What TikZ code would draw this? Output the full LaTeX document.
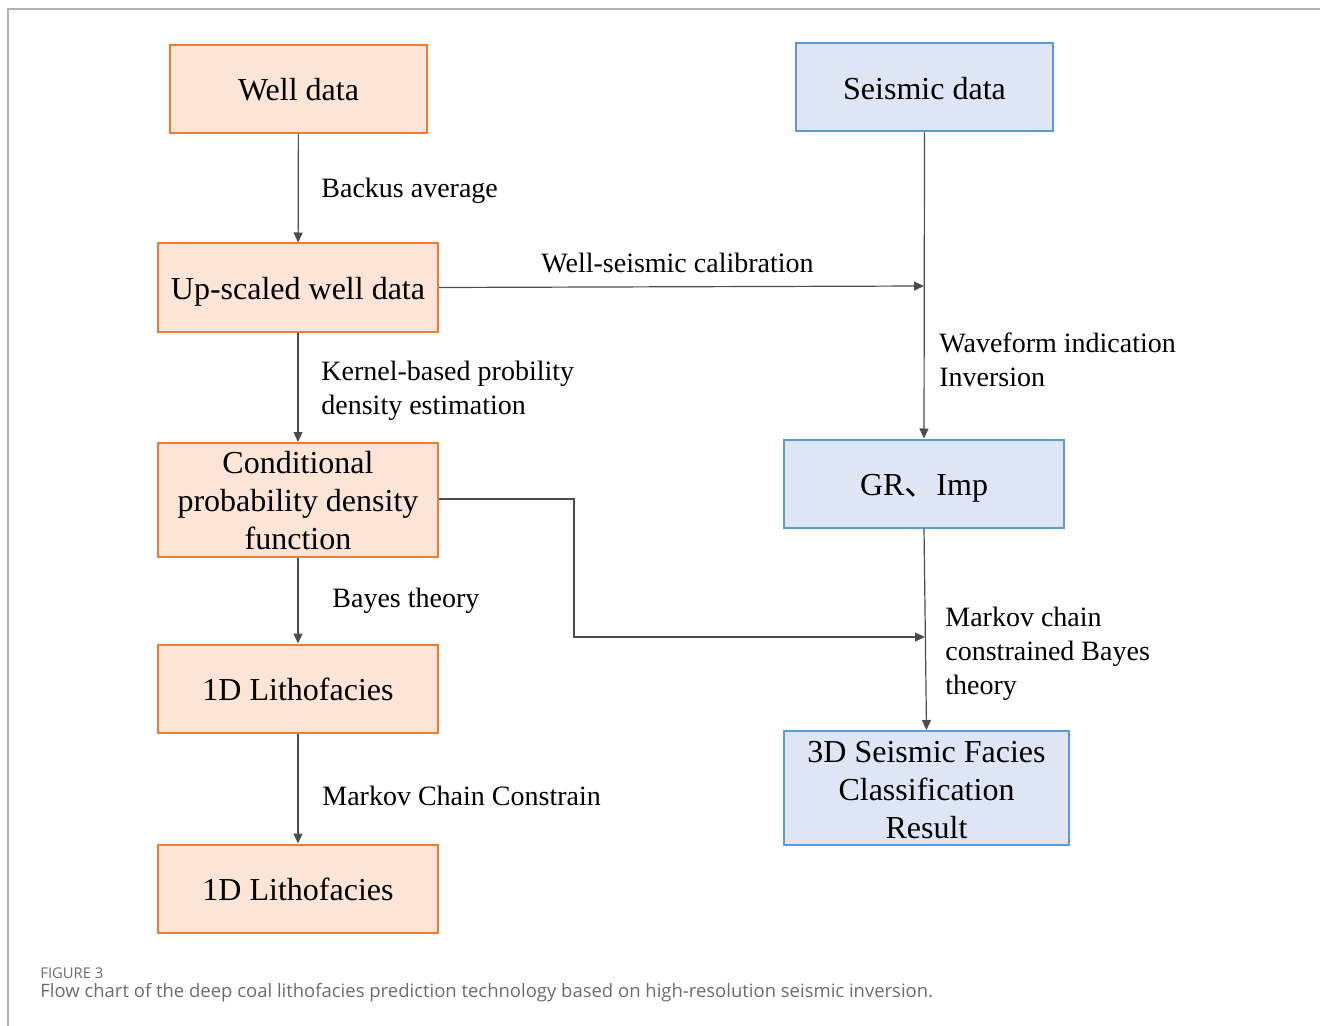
\documentclass[tikz,border=0pt]{standalone}
\usepackage{fontspec}
\setmainfont{Liberation Serif}
\newfontfamily\capfont{Open Sans}
\newfontfamily\cjkfont{Noto Sans CJK SC}
\usetikzlibrary{arrows.meta}

\definecolor{wellfill}{HTML}{FCE4D6}
\definecolor{wellline}{HTML}{ED7D31}
\definecolor{seisfill}{HTML}{DEE6F5}
\definecolor{seisline}{HTML}{5B9BD5}
\definecolor{capgray}{HTML}{6B6B6B}

\tikzset{
  wellbox/.style={draw=wellline, fill=wellfill, line width=1pt, align=center,
    inner sep=0pt, minimum width=140pt, minimum height=44pt,
    font=\fontsize{16}{19}\selectfont},
  seisbox/.style={wellbox, draw=seisline, fill=seisfill},
  oneline/.style={text height=12pt, text depth=0pt},
  steplabel/.style={anchor=west, align=left, inner sep=0pt,
    font=\fontsize{14}{17}\selectfont},
  flow/.style={draw=black!70, line width=0.6pt,
    -{Triangle[length=5pt,width=4.5pt]}},
}

\begin{document}
\begin{tikzpicture}[x=0.5pt, y=-0.5pt]
\useasboundingbox (0,0) rectangle (1320,1026);

% frame
\draw[black!30, line width=1pt] (8,1026) -- (8,9) -- (1320,9);

% left column
\node[wellbox, oneline, minimum width=128.5pt] (well) at (298.5,89) {Well data};
\node[wellbox, oneline] (upscaled) at (298,287.5) {Up-scaled well data};
\node[wellbox, minimum height=57pt, text height=50pt] (cpdf) at (298,500)
  {Conditional\\probability density\\function};
\node[wellbox, oneline] (litho) at (298,688.5) {1D Lithofacies};
\node[wellbox, oneline] (lithob) at (298,888.5) {1D Lithofacies};

% right column
\node[seisbox, oneline, minimum width=128.5pt] (seis) at (924.5,87.5) {Seismic data};
\node[seisbox, oneline] (grimp) at (924,483.5) {GR{\cjkfont 、}Imp};
\node[seisbox, minimum width=142.5pt, minimum height=57pt, text height=51pt]
  (result) at (926.5,788) {3D Seismic Facies\\Classification\\Result};

\coordinate (calib) at (924,286);
\coordinate (bend1) at (574,499);
\coordinate (bend2) at (574,637);
\coordinate (join) at (925,637);

\draw[flow] (well) -- (upscaled);
\draw[flow] (upscaled) -- (cpdf);
\draw[flow] (cpdf) -- (litho);
\draw[flow] (litho) -- (lithob);
\draw[flow] (seis.south) -- (grimp.north);
\draw[flow] (upscaled.east) -- (calib);
\draw[flow] (cpdf.east |- bend1) -- (bend1) -- (bend2) -- (join);
\draw[flow] (grimp.south) -- (result.north);

% labels
\node[steplabel] (lbackus) at (321,191) {Backus average};
\node[steplabel] (lcalib) at (541,263) {Well-seismic calibration};
\node[steplabel] (lkernel) at (321,391) {Kernel-based probility\\density estimation};
\node[steplabel] (lwave) at (939,360) {Waveform indication\\Inversion};
\node[steplabel] (lbayes) at (332,601) {Bayes theory};
\node[steplabel] (lmarkov) at (945,654) {Markov chain\\constrained Bayes\\theory};
\node[steplabel] (lchain) at (322,796) {Markov Chain Constrain};

% caption
\node[anchor=west, inner sep=0pt, text=capgray, font=\capfont\fontsize{7.4}{8}\selectfont]
  (figno) at (40,973) {FIGURE 3};
\node[anchor=west, inner sep=0pt, text=capgray, font=\capfont\fontsize{9.24}{10}\selectfont]
  (caption) at (40,993) {Flow chart of the deep coal lithofacies prediction technology based on high-resolution seismic inversion.};
\end{tikzpicture}
\end{document}
